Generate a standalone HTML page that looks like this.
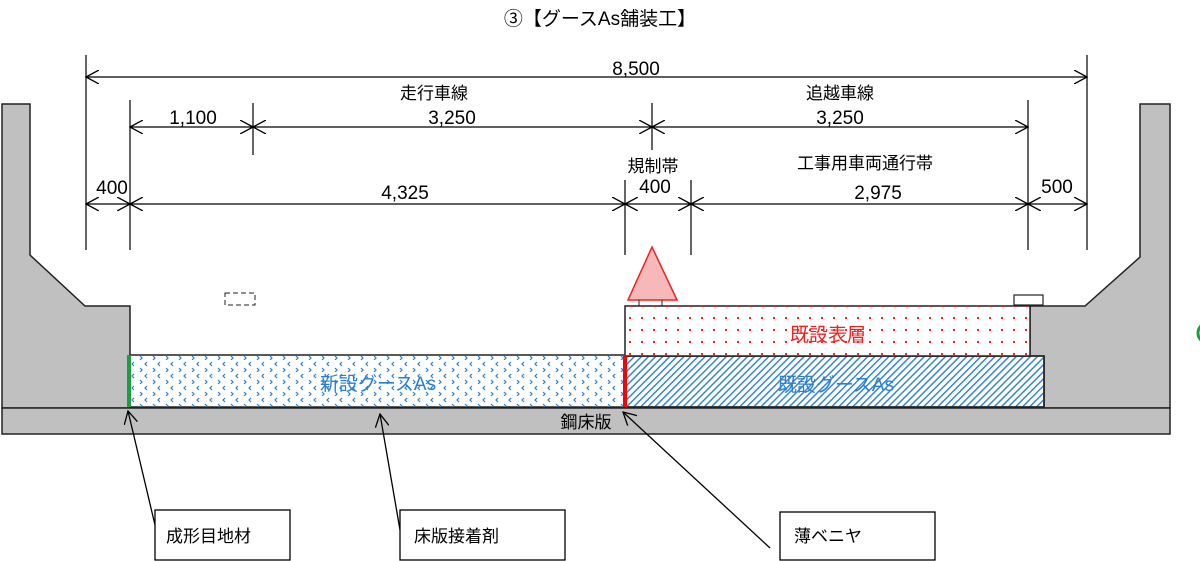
<!DOCTYPE html>
<html><head><meta charset="utf-8"><style>
body{margin:0;background:#fff;}
svg{display:block;font-family:"Liberation Sans","Noto Sans CJK JP",sans-serif;}
</style></head><body>
<svg width="1200" height="561" viewBox="0 0 1200 561" xmlns="http://www.w3.org/2000/svg">
<defs>
<pattern id="dots" width="12" height="12" patternUnits="userSpaceOnUse"><rect x="5" y="5" width="2" height="2" fill="#f22"/></pattern>
<pattern id="chev" width="13" height="12" patternUnits="userSpaceOnUse"><path d="M4 2 l-2 2 l2 2 M10 8 l2 2 l-2 2" stroke="#2a7fd0" stroke-width="1.2" fill="none"/></pattern>
<pattern id="hatch" width="5" height="5" patternUnits="userSpaceOnUse" patternTransform="rotate(45)"><rect width="1.4" height="5" fill="#2a7fd0"/></pattern>
<marker id="a" markerWidth="14" markerHeight="14" refX="13" refY="7" orient="auto-start-reverse" markerUnits="userSpaceOnUse"><path d="M0 0 L13 7 L0 14" fill="none" stroke="#000" stroke-width="1.3"/></marker>
</defs>
<text x="600" y="25" font-size="19" text-anchor="middle">③【グースAs舗装工】</text>
<path d="M2 104 H30 V255 L85 306 H130 V408 H2 Z" fill="#c0c0c0" stroke="#222" stroke-width="1.5"/>
<path d="M1170 104 H1140 V257 L1085 306 H1030 V357 H1044 V408 H1170 Z" fill="#c0c0c0" stroke="#222" stroke-width="1.5"/>
<rect x="2" y="408" width="1168" height="26" fill="#c0c0c0" stroke="#222" stroke-width="1.5"/>
<text x="586" y="428" font-size="17" text-anchor="middle">鋼床版</text>
<rect x="130" y="355" width="495" height="52" fill="#fff" stroke="#222" stroke-width="1.5"/>
<rect x="130" y="355" width="495" height="52" fill="url(#chev)"/>
<rect x="625" y="356" width="419" height="51" fill="#fff" stroke="#222" stroke-width="1.5"/>
<rect x="625" y="356" width="419" height="51" fill="url(#hatch)" stroke="#222" stroke-width="1.5"/>
<rect x="625" y="306" width="405" height="50" fill="#fff" stroke="#222" stroke-width="1.5"/>
<rect x="625" y="306" width="405" height="50" fill="url(#dots)"/>
<text x="378" y="390" font-size="19" fill="#2a7fd0" text-anchor="middle">新設グースAs</text>
<text x="836" y="391" font-size="19" fill="#2a7fd0" text-anchor="middle">既設グースAs</text>
<text x="828" y="341" font-size="19" fill="#e22" text-anchor="middle">既設表層</text>
<line x1="129" y1="355" x2="129" y2="407" stroke="#1a9e40" stroke-width="4"/>
<line x1="625" y1="355" x2="625" y2="407" stroke="#f00" stroke-width="4"/>
<rect x="1014" y="295" width="29" height="10" fill="#fff" stroke="#222" stroke-width="1.2"/>
<rect x="225" y="293" width="30" height="12" fill="none" stroke="#222" stroke-dasharray="5 3"/>
<path d="M652 247 L628 300 H677 Z" fill="#f6b8b8" stroke="#e22" stroke-width="1.5"/>
<path d="M639 300 V306 M662 300 V306" stroke="#222"/>
<g stroke="#000" stroke-width="1.2">
<line x1="86" y1="55" x2="86" y2="250"/><line x1="1087" y1="55" x2="1087" y2="250"/>
<line x1="130" y1="100" x2="130" y2="250"/><line x1="253" y1="103" x2="253" y2="155"/>
<line x1="652" y1="103" x2="652" y2="150"/><line x1="1028" y1="100" x2="1028" y2="250"/>
<line x1="625" y1="180" x2="625" y2="255"/><line x1="691" y1="180" x2="691" y2="255"/>
<line x1="86" y1="77" x2="1087" y2="77" marker-start="url(#a)" marker-end="url(#a)"/>
<line x1="130" y1="127" x2="253" y2="127" marker-start="url(#a)" marker-end="url(#a)"/>
<line x1="253" y1="127" x2="652" y2="127" marker-start="url(#a)" marker-end="url(#a)"/>
<line x1="652" y1="127" x2="1028" y2="127" marker-start="url(#a)" marker-end="url(#a)"/>
<line x1="86" y1="204" x2="130" y2="204" marker-start="url(#a)" marker-end="url(#a)"/>
<line x1="130" y1="204" x2="625" y2="204" marker-start="url(#a)" marker-end="url(#a)"/>
<line x1="625" y1="204" x2="691" y2="204" marker-start="url(#a)" marker-end="url(#a)"/>
<line x1="691" y1="204" x2="1028" y2="204" marker-start="url(#a)" marker-end="url(#a)"/>
<line x1="1028" y1="204" x2="1087" y2="204" marker-start="url(#a)" marker-end="url(#a)"/>
</g>
<g font-size="19" text-anchor="middle">
<text x="636" y="75">8,500</text>
<text x="434" y="99" font-size="17">走行車線</text>
<text x="840" y="99" font-size="17">追越車線</text>
<text x="193" y="124">1,100</text>
<text x="452" y="124">3,250</text>
<text x="840" y="124">3,250</text>
<text x="653" y="172" font-size="17">規制帯</text>
<text x="865" y="169" font-size="17">工事用車両通行帯</text>
<text x="112" y="194">400</text>
<text x="405" y="199">4,325</text>
<text x="655" y="193">400</text>
<text x="878" y="199">2,975</text>
<text x="1057" y="193">500</text>
</g>
<g stroke="#000" stroke-width="1.3" fill="none">
<line x1="155" y1="525" x2="128" y2="411" marker-end="url(#a)"/>
<line x1="400" y1="530" x2="380" y2="414" marker-end="url(#a)"/>
<line x1="770" y1="548" x2="623" y2="412" marker-end="url(#a)"/>
<rect x="155" y="510" width="135" height="50" fill="#fff"/>
<rect x="400" y="510" width="165" height="50" fill="#fff"/>
<rect x="780" y="512" width="155" height="48" fill="#fff"/>
</g>
<g font-size="17">
<text x="166" y="542">成形目地材</text>
<text x="414" y="542">床版接着剤</text>
<text x="794" y="542">薄ベニヤ</text>
</g>
<circle cx="1208" cy="333" r="10" fill="none" stroke="#1a9e40" stroke-width="3"/>
</svg>
</body></html>
